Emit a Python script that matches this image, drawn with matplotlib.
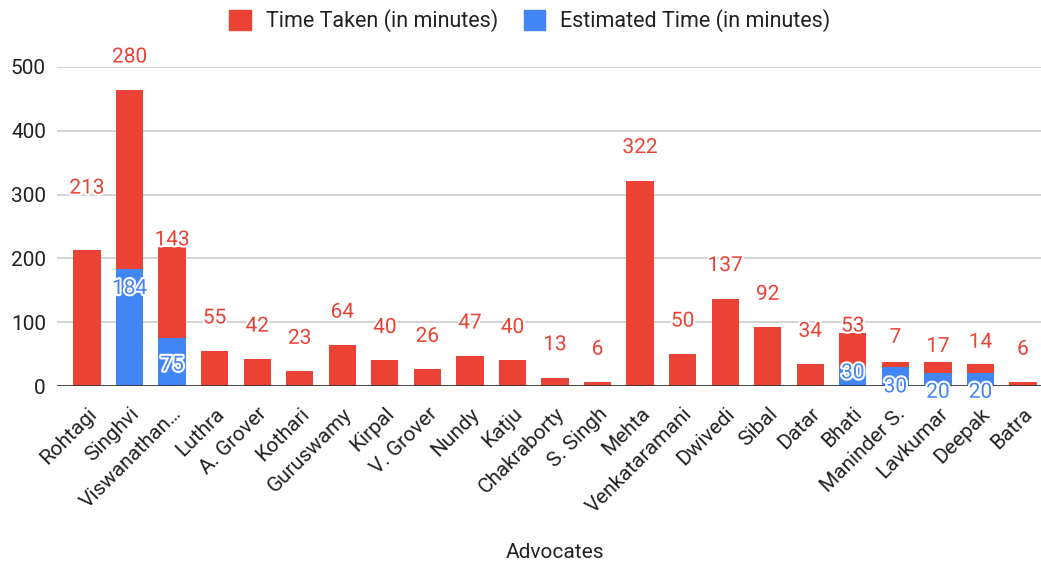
import numpy as np
import matplotlib.pyplot as plt
import matplotlib.patheffects as pe
from matplotlib.patches import Patch

plt.rcParams['font.family'] = ['Roboto', 'DejaVu Sans']

advocates = ['Rohtagi', 'Singhvi', 'Viswanathan…', 'Luthra', 'A. Grover', 'Kothari',
             'Guruswamy', 'Kirpal', 'V. Grover', 'Nundy', 'Katju', 'Chakraborty',
             'S. Singh', 'Mehta', 'Venkataramani', 'Dwivedi', 'Sibal', 'Datar',
             'Bhati', 'Maninder S.', 'Lavkumar', 'Deepak', 'Batra']
time_taken = [213, 280, 143, 55, 42, 23, 64, 40, 26, 47, 40, 13,
              6, 322, 50, 137, 92, 34, 53, 7, 17, 14, 6]
estimated = [0, 184, 75, 0, 0, 0, 0, 0, 0, 0, 0, 0,
             0, 0, 0, 0, 0, 0, 30, 30, 20, 20, 0]
y_ticks = [0, 100, 200, 300, 400, 500]

RED = '#EA4335'
BLUE = '#4285F4'
TXT = '#222222'

# label offsets in pixels (google charts moves some labels to avoid overlaps)
red_off = {0: 62, 2: 7, 18: 7, 19: 25, 20: 16, 21: 22}
blue_off = {1: 20, 2: 27, 18: 6, 19: 20, 20: 19, 21: 19}

fig = plt.figure(figsize=(10.41, 5.66), dpi=100)
ax = fig.add_axes([57 / 1041, 1 - 386 / 566, 996 / 1041, (386 - 67) / 566])

x = np.arange(len(advocates))
est = np.array(estimated)
tt = np.array(time_taken)

ax.bar(x, est, width=0.64, color=BLUE, zorder=2)
ax.bar(x, tt, width=0.64, bottom=est, color=RED, zorder=2)

halo = [pe.withStroke(linewidth=3, foreground='white')]
for i in range(len(x)):
    ax.annotate(str(tt[i]), (x[i], tt[i] + est[i]), xytext=(0, red_off.get(i, 33)),
                textcoords='offset pixels', ha='center', va='center', color=RED,
                fontsize=15, path_effects=halo, annotation_clip=False, zorder=4)
    if est[i] > 0:
        ax.annotate(str(est[i]), (x[i], est[i]), xytext=(0, -blue_off.get(i, 20)),
                    textcoords='offset pixels', ha='center', va='center', color=BLUE,
                    fontsize=15, path_effects=halo, annotation_clip=False, zorder=4)

ax.set_ylim(0, 500)
ax.set_xlim(-0.705, 22.705)
ax.set_yticks(y_ticks)
ax.set_yticklabels([str(v) for v in y_ticks], fontsize=15, color=TXT)
ax.set_xticks(x)
ax.set_xticklabels(advocates, rotation=45, ha='right', rotation_mode='anchor',
                   fontsize=15, color=TXT)
ax.tick_params(axis='y', length=0, pad=8)
ax.tick_params(axis='x', length=0, pad=13)
ax.grid(axis='y', color='#cccccc', linewidth=1.2, zorder=0)
ax.axhline(0, color='#333333', linewidth=1.2, zorder=3)
for s in ax.spines.values():
    s.set_visible(False)

fig.text(0.533, 1 - 553 / 566, 'Advocates', ha='center', va='center', fontsize=15, color=TXT)

handles = [Patch(color=RED, label='Time Taken (in minutes)'),
           Patch(color=BLUE, label='Estimated Time (in minutes)')]
fig.legend(handles=handles, loc='center', bbox_to_anchor=(0.509, 1 - 21 / 566), ncol=2,
           frameon=False, fontsize=15.5, handlelength=1.0, handleheight=1.0,
           columnspacing=1.2, handletextpad=0.7, labelcolor=TXT)

fig.savefig('out.png', dpi=100)
